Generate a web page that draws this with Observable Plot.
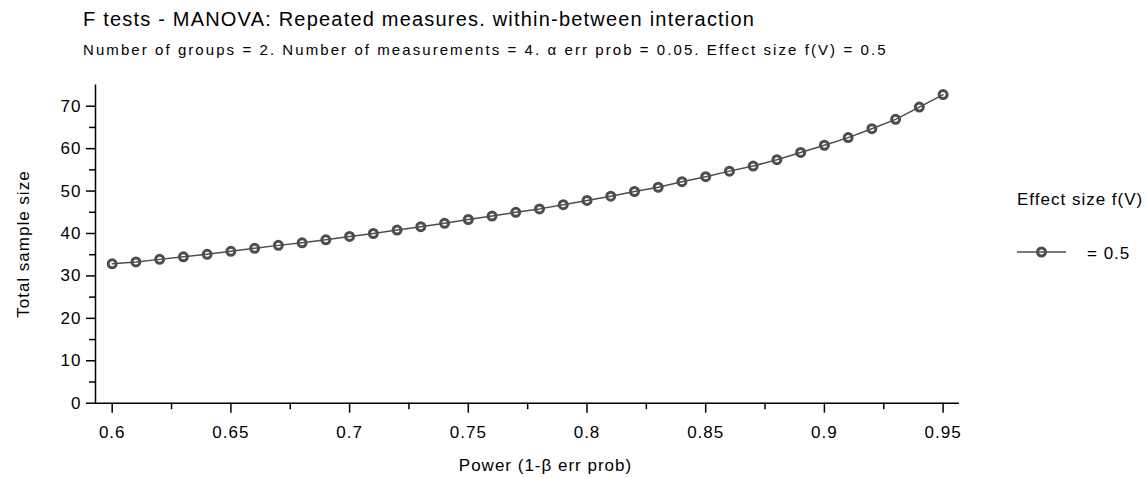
<!DOCTYPE html>
<html>
<head>
<meta charset="utf-8">
<script src="https://cdn.jsdelivr.net/npm/d3@7"></script>
<script src="https://cdn.jsdelivr.net/npm/@observablehq/plot@0.6"></script>
<style>
  html, body { margin: 0; padding: 0; background: #fff; }
  #wrap { position: relative; width: 1146px; height: 478px; font-family: "Liberation Sans", Arial, sans-serif; color: #000; }
  #header { position: relative; height: 70px; }
  #title { position: absolute; left: 83px; top: 9px; font-size: 20px; line-height: 20px; letter-spacing: 1.2px; white-space: nowrap; }
  #subtitle { position: absolute; left: 83px; top: 41.5px; font-size: 15px; line-height: 15px; letter-spacing: 2.07px; white-space: nowrap; }
  #chart svg { display: block; }
  #legend { position: absolute; left: 1017px; top: 190px; font-size: 17px; letter-spacing: 1px; white-space: nowrap; }
  #legend .lt { line-height: 20px; }
  #legend .row { display: flex; align-items: center; margin-top: 34px; }
  #legend .lab { margin-left: 20px; }
</style>
</head>
<body>
<div id="wrap">
  <div id="header">
    <div id="title"></div>
    <div id="subtitle"></div>
  </div>
  <div id="chart"></div>
  <div id="legend"></div>
</div>
<script>
const titleText = "F tests - MANOVA: Repeated measures. within-between interaction";
const subtitleText = "Number of groups = 2. Number of measurements = 4. \u03b1 err prob = 0.05. Effect size f(V) = 0.5";
const xLabel = "Power (1-\u03b2 err prob)";
const yLabel = "Total sample size";
const legendTitle = "Effect size f(V)";
const seriesName = "= 0.5";

const power = [0.60,0.61,0.62,0.63,0.64,0.65,0.66,0.67,0.68,0.69,0.70,0.71,0.72,0.73,0.74,0.75,0.76,0.77,0.78,0.79,0.80,0.81,0.82,0.83,0.84,0.85,0.86,0.87,0.88,0.89,0.90,0.91,0.92,0.93,0.94,0.95];
const sampleSize = [32.85,33.3,33.9,34.5,35.1,35.8,36.5,37.2,37.8,38.5,39.3,40.0,40.8,41.6,42.4,43.3,44.1,45.0,45.8,46.8,47.8,48.8,49.9,50.9,52.2,53.4,54.7,55.9,57.4,59.1,60.8,62.6,64.7,66.9,69.8,72.75];

const xMajorTicks = [0.6,0.65,0.7,0.75,0.8,0.85,0.9,0.95];
const xMinorTicks = [0.625,0.675,0.725,0.775,0.825,0.875,0.925];
const yMajorTicks = [0,10,20,30,40,50,60,70];
const yMinorTicks = [5,15,25,35,45,55,65];
const xDomain = [0.59297, 0.95691];
const yDomain = [0, 75];

const data = power.map((p, i) => ({power: p, n: sampleSize[i]}));
const color = "#4d4d4d";

document.getElementById("title").textContent = titleText;
document.getElementById("subtitle").textContent = subtitleText;

const fmtX = d => String(+d.toFixed(3));

const chart = Plot.plot({
  width: 1146,
  height: 408,
  marginTop: 14.5,
  marginBottom: 75.3,
  marginLeft: 95,
  marginRight: 187,
  style: {fontFamily: "'Liberation Sans', Arial, sans-serif", fontSize: "17px", color: "#000", background: "#fff", overflow: "visible"},
  x: {domain: xDomain},
  y: {domain: yDomain},
  marks: [
    Plot.axisX(xMajorTicks, {tickSize: 10, tickPadding: 13, tickFormat: fmtX, label: null, fontSize: 17, stroke: "#000", strokeWidth: 1.5}),
    Plot.axisX(xMinorTicks, {tickSize: 6.5, tickFormat: () => "", label: null, stroke: "#000", strokeWidth: 1.5}),
    Plot.axisY(yMajorTicks, {tickSize: 9, tickPadding: 5, label: null, fontSize: 17, stroke: "#000", strokeWidth: 1.5}),
    Plot.axisY(yMinorTicks, {tickSize: 6, tickFormat: () => "", label: null, stroke: "#000", strokeWidth: 1.5}),
    Plot.ruleY([yDomain[0]], {stroke: "#000", strokeWidth: 1.5}),
    Plot.ruleX([xDomain[0]], {stroke: "#000", strokeWidth: 1.5}),
    Plot.line(data, {x: "power", y: "n", stroke: color, strokeWidth: 1.5}),
    Plot.dot(data, {x: "power", y: "n", r: 4, stroke: color, strokeWidth: 3, fill: "none"}),
    Plot.text([xLabel], {frameAnchor: "bottom", lineAnchor: "bottom", textAnchor: "middle", dx: 18, dy: 67.3, fontSize: 17, fill: "#000"}),
    Plot.text([yLabel], {frameAnchor: "left", lineAnchor: "bottom", textAnchor: "middle", rotate: -90, dx: -67, fontSize: 17, fill: "#000"})
  ]
});
document.getElementById("chart").appendChild(chart);

chart.querySelectorAll("text").forEach(t => t.setAttribute("letter-spacing", "1"));

// legend
const legend = document.getElementById("legend");
legend.innerHTML = `<div class="lt"></div><div class="row"><span class="sw"></span><span class="lab"></span></div>`;
legend.querySelector(".lt").textContent = legendTitle;
legend.querySelector(".lab").textContent = seriesName;
const sw = d3.create("svg").attr("width", 50).attr("height", 14);
sw.append("line").attr("x1", 0).attr("x2", 49).attr("y1", 7).attr("y2", 7).attr("stroke", color).attr("stroke-width", 1.5);
sw.append("circle").attr("cx", 24.5).attr("cy", 7).attr("r", 4).attr("fill", "none").attr("stroke", color).attr("stroke-width", 3);
legend.querySelector(".sw").appendChild(sw.node());
</script>
</body>
</html>
